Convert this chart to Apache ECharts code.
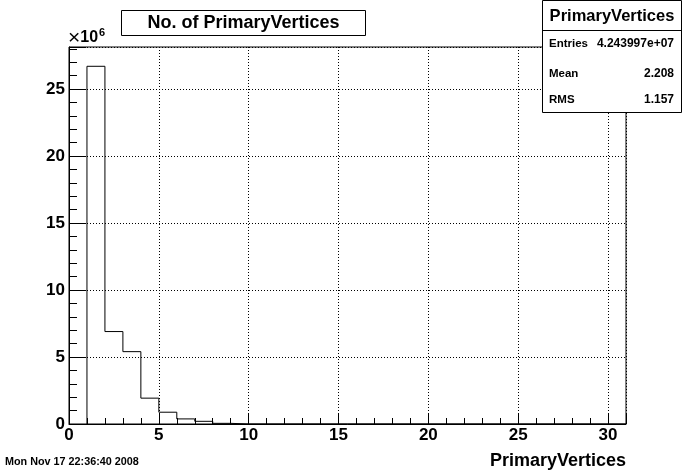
<!DOCTYPE html>
<html>
<head>
<meta charset="utf-8">
<script src="https://cdn.jsdelivr.net/npm/echarts@6/dist/echarts.min.js"></script>
<style>
  html, body { margin: 0; padding: 0; background: #fff; }
  #chart { width: 696px; height: 472px; }
</style>
</head>
<body>
<div id="chart"></div>
<script>
// ---- Data (histogram of number of primary vertices) ----
// Bin lower edges (bin width 1), x axis 0..31
const binLow = [1,2,3,4,5,6,7,8,9,10,11,12,13,14,15,16,17,18,19,20,21,22,23,24,25,26,27,28,29,30];
const binWidth = 1;
// Entries per bin, in units of 10^6
const countsMillions = [26.7, 6.9, 5.4, 1.93, 0.88, 0.38, 0.2, 0.05, 0, 0, 0, 0, 0, 0, 0, 0, 0, 0, 0, 0, 0, 0, 0, 0, 0, 0, 0, 0, 0, 0];
const xTickLabels = ['0', '5', '10', '15', '20', '25', '30'];
const yTickLabels = ['0', '5', '10', '15', '20', '25'];
const titleText = 'No. of PrimaryVertices';
const xAxisTitle = 'PrimaryVertices';
const statsName = 'PrimaryVertices';
const statsRows = [['Entries', '4.243997e+07'], ['Mean', '2.208'], ['RMS', '1.157']];
const dateText = 'Mon Nov 17 22:36:40 2008';

// Build the histogram outline (step polyline) from the bins
const outline = [[binLow[0], 0]];
binLow.forEach((lo, i) => {
  outline.push([lo, countsMillions[i]]);
  outline.push([lo + binWidth, countsMillions[i]]);
});
outline.push([binLow[binLow.length - 1] + binWidth, 0]);

const FONT = 'Liberation Sans, Arial, Helvetica, sans-serif';
const chart = echarts.init(document.getElementById('chart'), null, { renderer: 'canvas' });

const statsTop = 0, statsLeft = 542.5, statsRight = 681.5, statsBottom = 112.5, statsSep = 30.5;
const rowY = [44, 74, 100];
const graphics = [
  // title box
  { type: 'rect', shape: { x: 121.5, y: 10.5, width: 244, height: 25 }, style: { fill: '#fff', stroke: '#000', lineWidth: 1 }, z: 10 },
  { type: 'text', x: 243.5, y: 23, style: { text: titleText, font: 'bold 18px ' + FONT, fill: '#000', align: 'center', verticalAlign: 'middle' }, z: 11 },
  // stats box
  { type: 'rect', shape: { x: statsLeft, y: statsTop + 0.5, width: statsRight - statsLeft, height: statsBottom - statsTop - 0.5 }, style: { fill: '#fff', stroke: '#000', lineWidth: 1 }, z: 10 },
  { type: 'line', shape: { x1: statsLeft, y1: statsSep, x2: statsRight, y2: statsSep }, style: { stroke: '#000', lineWidth: 1 }, z: 11 },
  { type: 'text', x: (statsLeft + statsRight) / 2, y: 16, style: { text: statsName, font: 'bold 16.5px ' + FONT, fill: '#000', align: 'center', verticalAlign: 'middle' }, z: 11 },
  // x10^6
  { type: 'text', x: 68, y: 38, style: { text: '{x|×}{a|10}{b|6}', rich: { x: { font: '21px ' + FONT, fill: '#000', padding: [0, 0, 0, 0] }, a: { font: 'bold 16px ' + FONT, fill: '#000' }, b: { font: 'bold 11px ' + FONT, fill: '#000', padding: [0, 0, 10, 1] } }, verticalAlign: 'middle' }, z: 11 },
  // date
  { type: 'text', x: 5, y: 462, style: { text: dateText, font: 'bold 10.8px ' + FONT, fill: '#000', verticalAlign: 'middle' }, z: 11 },
  // x-axis title
  { type: 'text', x: 626, y: 461, style: { text: xAxisTitle, font: 'bold 18px ' + FONT, fill: '#000', align: 'right', verticalAlign: 'middle' }, z: 11 }
];
statsRows.forEach((r, i) => {
  graphics.push({ type: 'text', x: 549, y: rowY[i], style: { text: r[0], font: 'bold 11.5px ' + FONT, fill: '#000', verticalAlign: 'middle' }, z: 11 });
  graphics.push({ type: 'text', x: 674, y: rowY[i], style: { text: r[1], font: 'bold 12px ' + FONT, fill: '#000', align: 'right', verticalAlign: 'middle' }, z: 11 });
});

const gridLineStyle = { color: '#000', width: 1, type: [1, 2] };
chart.setOption({
  animation: false,
  backgroundColor: '#fff',
  grid: { left: 69, right: 70, top: 47, bottom: 48, show: true, borderColor: '#000', borderWidth: 1, backgroundColor: 'transparent' },
  xAxis: {
    type: 'value', min: 0, max: 31, interval: 5,
    axisLine: { show: true, onZero: false, lineStyle: { color: '#000', width: 1 } },
    axisTick: { show: true, inside: true, length: 11, lineStyle: { color: '#000' } },
    minorTick: { show: true, splitNumber: 5, length: 6, lineStyle: { color: '#000' } },
    splitLine: { show: true, lineStyle: gridLineStyle },
    minorSplitLine: { show: false },
    axisLabel: {
      margin: 3, color: '#000', fontFamily: FONT, fontWeight: 'bold', fontSize: 17,
      showMaxLabel: false,
      formatter: (v) => { const i = xTickLabels.indexOf(String(v)); return i >= 0 ? xTickLabels[i] : ''; }
    }
  },
  yAxis: {
    type: 'value', min: 0, max: 28.14, interval: 5,
    axisLine: { show: true, onZero: false, lineStyle: { color: '#000', width: 1 } },
    axisTick: { show: true, inside: true, length: 17, lineStyle: { color: '#000' } },
    minorTick: { show: true, splitNumber: 5, length: 8, lineStyle: { color: '#000' } },
    splitLine: { show: true, lineStyle: gridLineStyle },
    minorSplitLine: { show: false },
    axisLabel: {
      margin: 4, color: '#000', fontFamily: FONT, fontWeight: 'bold', fontSize: 17,
      showMaxLabel: false,
      formatter: (v) => { const i = yTickLabels.indexOf(String(v)); return i >= 0 ? yTickLabels[i] : ''; }
    }
  },
  series: [{
    type: 'line',
    data: outline,
    showSymbol: false,
    symbol: 'none',
    lineStyle: { color: '#000', width: 1 },
    itemStyle: { color: '#000' },
    clip: false,
    z: 5
  }],
  graphic: graphics
});
</script>
</body>
</html>
